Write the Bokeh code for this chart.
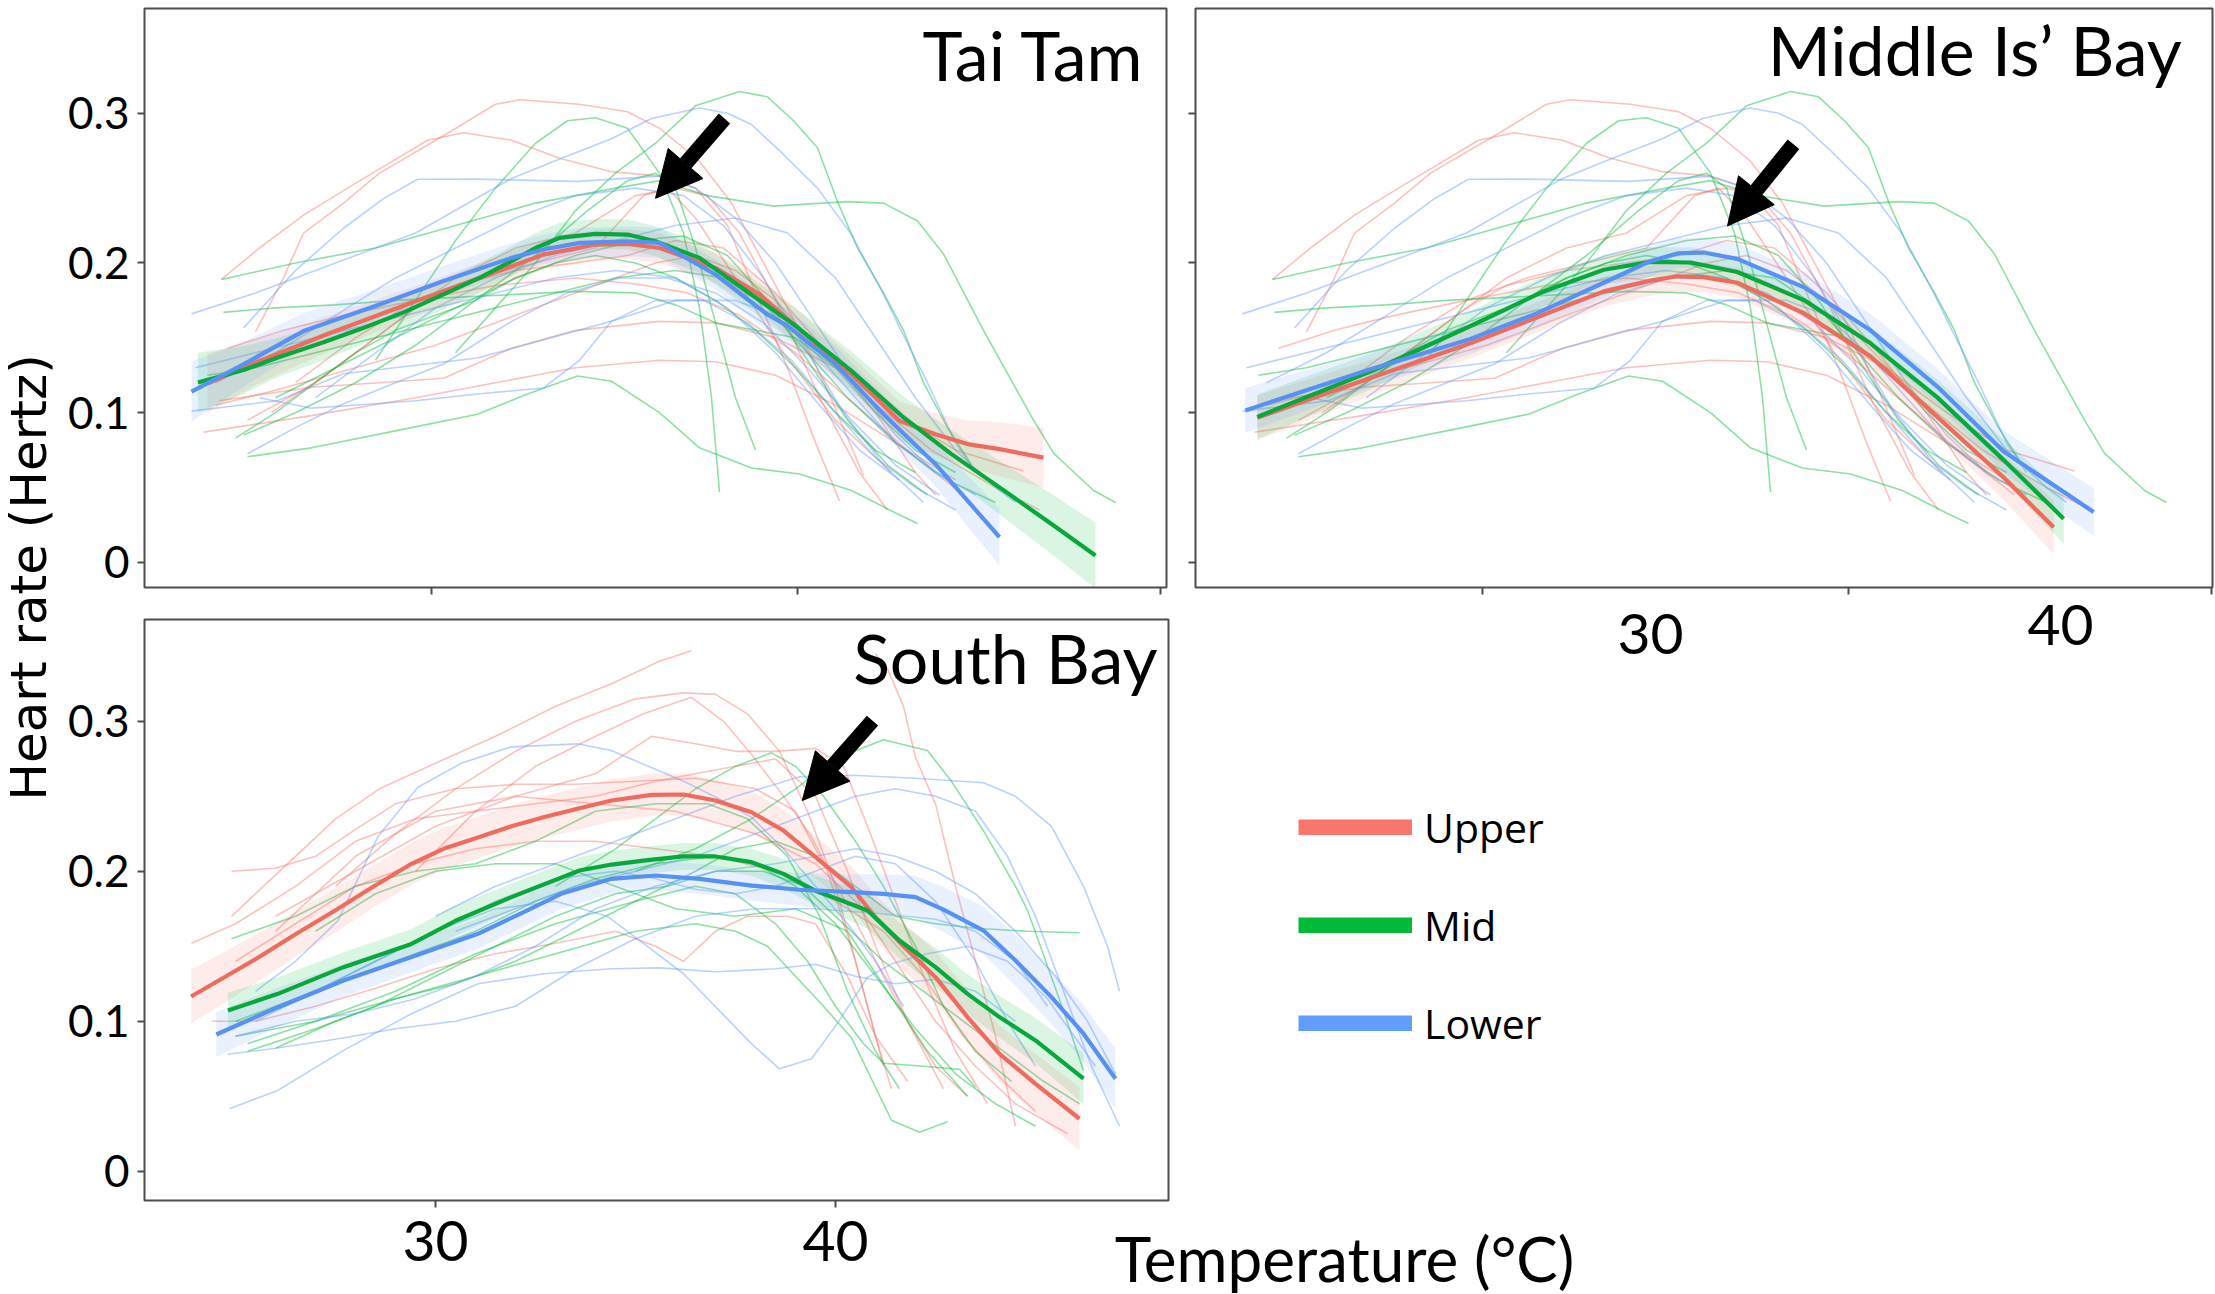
from math import pi

from bokeh.plotting import figure
from bokeh.layouts import row, column
from bokeh.models import Range1d, FixedTicker, Label, Arrow, NormalHead, Legend, LegendItem
from bokeh.embed import file_html
from bokeh.resources import INLINE

# ---------------------------------------------------------------- data
zones = ["Upper", "Mid", "Lower"]
sites = ["Tai Tam", "Middle Is\u2019 Bay", "South Bay"]

# Tai Tam: smoothed fits (temperature, heart rate) and ribbon half-widths
tt_upper_T = [24.3, 25.5, 26.5, 27.3, 29.4, 31.1, 32.7, 34.0, 34.8, 35.6, 37.0, 38.1, 39.0, 40.4, 41.6, 42.5, 43.3, 44.1, 45.2]
tt_upper_hr = [.1195, .1335, .144, .1525, .1734, .19, .2056, .2123, .2127, .21, .1967, .179, .158, .1256, .0945, .0856, .079, .0756, .07]
tt_upper_se = [.02, .015, .013, .012, .01, .01, .01, .01, .01, .01, .01, .011, .012, .012, .013, .014, .016, .018, .02]

tt_mid_T = [24.06, 25.2, 26.06, 27.2, 28.14, 29.2, 30.2, 31.1, 31.9, 32.5, 33.1, 34.0, 34.8, 35.5, 36.6, 37.9, 39.0, 40.4, 41.7, 42.9, 44.1, 45.4, 46.5]
tt_mid_hr = [.1201, .1285, .1368, .147, .156, .167, .179, .19, .2012, .21, .2168, .2194, .219, .2145, .2034, .179, .158, .1279, .0968, .0723, .0501, .0256, .0046]
tt_mid_se = [.02, .016, .013, .012, .011, .01, .01, .01, .01, .01, .01, .01, .01, .01, .01, .011, .012, .013, .014, .016, .018, .02, .022]

tt_lower_T = [23.9, 25.2, 26.7, 28.6, 30.2, 31.9, 32.7, 33.6, 34.8, 35.6, 37.0, 38.3, 38.8, 40.0, 41.2, 42.5, 43.3, 44.1]
tt_lower_hr = [.1141, .1323, .1545, .1723, .1879, .2034, .209, .2134, .2145, .2134, .1923, .1656, .158, .1323, .099, .0656, .0412, .0168]
tt_lower_se = [.02, .015, .012, .011, .01, .01, .01, .01, .01, .01, .01, .011, .011, .012, .013, .015, .017, .019]

# Middle Island Bay: smoothed fits
mb_upper_T = [24.27, 27.1, 29.6, 31.27, 32.93, 34.1, 34.77, 35.43, 36.27, 37.93, 39.6, 41.27, 42.93, 44.18]
mb_upper_hr = [.0966, .1232, .1463, .1637, .181, .1882, .1911, .1905, .1868, .1665, .1376, .0972, .0567, .0234]
mb_upper_se = [.015, .012, .01, .01, .01, .01, .01, .01, .01, .01, .011, .013, .015, .018]

mb_mid_T = [24.27, 27.1, 29.6, 31.43, 32.93, 34.1, 35.1, 36.27, 37.93, 39.6, 41.27, 42.93, 44.43]
mb_mid_hr = [.0972, .1275, .1579, .181, .1955, .2007, .2003, .194, .1752, .1463, .1102, .0683, .0292]
mb_mid_se = [.015, .012, .01, .01, .01, .01, .01, .01, .01, .011, .012, .014, .017]

mb_lower_T = [23.97, 27.1, 29.6, 31.27, 32.93, 34.1, 34.77, 35.43, 36.27, 37.93, 39.6, 41.27, 42.93, 45.18]
mb_lower_hr = [.1015, .129, .1492, .1665, .1868, .2012, .2064, .207, .2027, .1839, .155, .1174, .074, .0336]
mb_lower_se = [.015, .012, .01, .01, .01, .01, .01, .01, .01, .01, .011, .012, .014, .016]

# South Bay: smoothed fits
sb_upper_T = [23.89, 24.7, 25.6, 26.5, 27.5, 28.4, 29.4, 30.2, 31.1, 31.9, 32.7, 33.6, 34.4, 35.4, 36.2, 37.0, 37.9, 38.7, 39.5, 40.4, 41.0, 41.7, 42.5, 43.3, 44.1, 45.0, 46.1]
sb_upper_hr = [.1165, .129, .143, .158, .174, .189, .205, .215, .2228, .23, .2361, .242, .2472, .251, .2512, .2472, .2394, .2272, .2094, .1894, .1694, .15, .1294, .1028, .0783, .0583, .035]
sb_upper_se = [.018, .017, .016, .015, .015, .014, .014, .014, .014, .014, .014, .014, .014, .014, .014, .014, .014, .014, .014, .014, .015, .016, .017, .018, .019, .02, .021]

sb_mid_T = [24.81, 26.06, 27.7, 29.4, 30.5, 31.9, 33.6, 34.4, 35.3, 36.2, 37.0, 37.9, 38.7, 39.5, 40.2, 40.8, 41.6, 42.5, 43.3, 44.1, 45.0, 46.2]
sb_mid_hr = [.1072, .1183, .1361, .1516, .167, .1828, .2005, .2045, .2075, .2099, .2099, .2061, .1983, .187, .18, .1739, .1539, .1361, .1183, .1028, .0872, .0617]
sb_mid_se = [.012, .011, .01, .01, .01, .009, .009, .009, .009, .009, .009, .009, .01, .01, .011, .012, .012, .013, .013, .014, .015, .017]

sb_lower_T = [24.52, 26.06, 27.7, 29.4, 31.06, 32.14, 33.14, 34.4, 35.5, 36.6, 37.9, 39.1, 40.4, 41.2, 42.0, 42.7, 43.7, 44.5, 45.4, 46.2, 47.0]
sb_lower_hr = [.0912, .1094, .1272, .1428, .1583, .172, .185, .195, .1972, .195, .1905, .1877, .1861, .185, .1828, .1745, .1605, .1405, .1161, .0917, .0617]
sb_lower_se = [.015, .013, .011, .01, .01, .01, .01, .01, .01, .01, .01, .011, .012, .013, .014, .015, .016, .017, .018, .019, .02]

# Individual traces (temperature, heart rate) shown in Tai Tam and Middle Is' Bay
ind_upper = [
    [(25.5, .154), (26.2, .19), (26.7, .22), (27.7, .24), (28.6, .26), (30.2, .285), (31.5, .306), (32.1, .309), (33.6, .306), (34.8, .301), (35.6, .29), (36.6, .268), (37.4, .24), (38.2, .2), (39.0, .16), (39.8, .115), (40.7, .058)],
    [(24.65, .189), (25.6, .21), (26.7, .232), (27.8, .25), (28.8, .266), (29.8, .282), (30.7, .287), (31.9, .282), (33.1, .27), (34.4, .261), (35.6, .258), (36.5, .25), (37.3, .225), (38.0, .18), (38.8, .13), (39.5, .08), (40.1, .041)],
    [(24.2, .087), (26.9, .098), (29.5, .11), (31.5, .12), (33.5, .13), (35.6, .135), (37.0, .134), (38.5, .125), (40.0, .105), (41.5, .08), (43.0, .055)],
    [(24.6, .108), (26.9, .117), (28.6, .12), (30.2, .123), (31.9, .143), (33.5, .155), (35.6, .161), (37.0, .16), (38.5, .15), (40.0, .13), (41.5, .1), (43.0, .075), (44.7, .061)],
    [(24.8, .143), (26.2, .155), (27.7, .165), (29.5, .175), (31.5, .185), (33.5, .19), (35.0, .186), (36.3, .18), (37.6, .165), (39.0, .14), (40.5, .105), (42.0, .07), (43.2, .045)],
    [(25.9, .1), (27.5, .13), (29.0, .16), (30.5, .19), (32.0, .21), (33.5, .22), (35.0, .245), (36.0, .25), (36.8, .245), (37.6, .22), (38.6, .17), (39.6, .11), (40.6, .06), (41.3, .035)],
    [(24.5, .105), (26.0, .115), (28.0, .13), (30.0, .145), (32.0, .165), (34.0, .185), (35.5, .2), (36.5, .205), (37.5, .195), (38.5, .175), (39.5, .145), (40.8, .11), (42.4, .075), (44.0, .05), (45.1, .035)],
    [(25.3, .095), (27.0, .12), (28.5, .15), (29.5, .17), (30.5, .185), (32.0, .195), (33.5, .2), (34.8, .205), (36.0, .215), (37.2, .21), (38.5, .18), (39.8, .14), (41.0, .1), (42.0, .06), (42.5, .045)],
    [(26.5, .12), (28.0, .15), (29.5, .175), (31.0, .19), (32.5, .2), (34.0, .21), (35.2, .245), (35.8, .25), (36.5, .23), (37.5, .19), (38.7, .14), (40.0, .095), (41.4, .06)],
]
ind_mid = [
    [(28.5, .135), (29.5, .175), (30.5, .215), (31.5, .25), (32.5, .28), (33.3, .295), (34.0, .297), (34.8, .29), (35.6, .26), (36.2, .22), (36.6, .17), (36.9, .11), (37.1, .047)],
    [(30.5, .14), (31.5, .17), (32.5, .2), (33.5, .235), (34.5, .26), (35.5, .28), (36.5, .305), (37.6, .3145), (38.3, .311), (38.95, .295), (39.55, .277), (40.05, .241), (40.55, .21), (41.2, .18), (41.7, .155), (42.2, .12), (42.8, .09), (43.4, .065)],
    [(24.65, .189), (26.5, .2), (28.5, .21), (30.5, .225), (32.5, .24), (34.5, .25), (35.6, .255), (36.8, .245), (38.45, .238), (40.3, .241), (41.2, .24), (42.05, .228), (42.7, .206), (43.7, .155), (44.95, .095), (45.45, .073), (46.45, .048), (47.0, .04)],
    [(25.3, .0705), (26.9, .0765), (29.4, .09), (31.05, .099), (32.3, .1125), (33.55, .1245), (34.4, .121), (35.6, .1), (36.6, .0765), (37.9, .063), (39.1, .059), (40.4, .048), (41.5, .033), (42.05, .026)],
    [(25.0, .083), (26.0, .1), (27.0, .12), (28.0, .14), (29.0, .155), (30.0, .165), (31.0, .175), (32.0, .19), (33.0, .2), (34.0, .205), (35.0, .2), (36.0, .19), (37.0, .175), (38.0, .155), (39.0, .13), (40.0, .1), (41.0, .075), (42.0, .06)],
    [(24.7, .167), (26.0, .17), (27.5, .172), (29.0, .175), (30.5, .177), (32.0, .179), (33.5, .181), (35.0, .18), (36.0, .172), (37.0, .16), (38.0, .155), (39.0, .15), (40.0, .13), (41.0, .1), (42.0, .075), (43.0, .06)],
    [(25.2, .085), (26.5, .1), (28.0, .12), (29.5, .145), (31.0, .175), (32.5, .205), (33.8, .235), (34.8, .255), (35.5, .26), (36.0, .25), (36.5, .21), (37.0, .16), (37.5, .11), (38.0, .075)],
    [(24.3, .125), (25.5, .13), (27.0, .14), (28.5, .15), (30.0, .16), (31.5, .17), (33.0, .18), (34.5, .19), (36.0, .195), (37.2, .19), (38.3, .17), (39.3, .14), (40.3, .11), (41.5, .08), (42.8, .055), (44.0, .04)],
    [(26.0, .11), (27.5, .13), (29.0, .15), (30.5, .17), (32.0, .19), (33.5, .205), (35.0, .215), (36.2, .218), (37.3, .205), (38.3, .175), (39.3, .135), (40.3, .095), (41.3, .065), (42.3, .045)],
]
ind_lower = [
    [(23.9, .166), (25.5, .18), (27.5, .2), (29.5, .22), (31.9, .2565), (33.15, .27), (34.4, .283), (35.4, .2965), (36.6, .3035), (37.3, .3), (37.9, .2925), (38.7, .2725), (39.55, .25), (40.4, .219), (41.2, .179), (41.6, .157), (42.3, .12), (43.0, .08), (43.5, .06)],
    [(25.2, .1565), (26.5, .195), (27.7, .2232), (28.7, .243), (29.55, .2559), (31.05, .256), (33.55, .2545), (35.6, .258), (36.5, .25), (37.5, .23), (38.5, .2), (39.5, .16), (40.5, .12), (41.5, .085), (42.5, .06)],
    [(25.3, .0725), (26.5, .09), (27.7, .106), (29.0, .12), (30.2, .1325), (31.9, .161), (33.3, .18), (34.6, .19), (35.8, .19), (37.0, .18), (38.2, .16), (39.3, .13), (40.4, .095), (41.5, .065), (42.6, .045)],
    [(23.9, .101), (26.05, .108), (27.7, .126), (31.05, .1365), (34.4, .161), (36.0, .175), (37.5, .175), (38.5, .165), (39.5, .14), (40.5, .11), (41.5, .08), (42.5, .06), (43.5, .045)],
    [(25.6, .11), (26.9, .103), (27.7, .1045), (29.5, .108), (31.05, .1125), (32.7, .1165), (33.6, .135), (34.4, .161), (35.5, .175), (36.7, .175), (37.8, .16), (38.9, .135), (40.0, .1), (41.0, .07), (42.0, .05), (43.0, .035)],
    [(24.5, .12), (26.0, .14), (27.5, .165), (29.0, .19), (30.5, .21), (32.0, .23), (33.5, .245), (35.0, .25), (36.2, .245), (37.2, .225), (38.2, .19), (39.2, .145), (40.2, .1), (41.2, .065), (42.2, .04)],
    [(27.0, .11), (28.5, .14), (30.0, .17), (31.5, .19), (33.0, .205), (34.5, .215), (36.0, .225), (37.5, .23), (38.8, .22), (40.0, .19), (41.0, .15), (42.0, .11), (43.0, .075), (44.0, .05), (44.5, .04)],
    [(24.0, .13), (25.5, .14), (27.0, .15), (28.5, .16), (30.0, .17), (31.5, .18), (33.0, .19), (34.5, .195), (36.0, .19), (37.3, .17), (38.5, .14), (39.6, .105), (40.6, .075), (41.6, .055)],
]

# Individual traces for South Bay
sb_ind_upper = [
    [(24.9, .17), (26.3, .205), (27.5, .235), (28.6, .255), (30.0, .272), (31.5, .29), (33.0, .31), (34.4, .325), (35.6, .34), (36.4, .347)],
    [(27.5, .19), (29.0, .225), (30.5, .255), (32.0, .28), (33.5, .3), (35.0, .315), (36.2, .319), (37.0, .318), (37.8, .305), (38.6, .28), (39.3, .24), (40.0, .19), (40.6, .13), (41.2, .07)],
    [(29.5, .2), (31.0, .24), (32.5, .27), (34.0, .29), (35.2, .305), (36.4, .316), (37.2, .3), (37.9, .278), (38.7, .25), (39.4, .223), (40.0, .192), (40.5, .167), (41.2, .13), (42.0, .09), (42.7, .055)],
    [(41.0, .345), (41.3, .335), (41.7, .31), (42.0, .276), (42.5, .245), (43.0, .19), (43.5, .14), (44.0, .09), (44.5, .03)],
    [(26.0, .17), (28.0, .2), (30.0, .23), (32.0, .25), (34.0, .265), (35.4, .29), (36.5, .285), (37.5, .28), (38.5, .28), (39.5, .282), (40.2, .27), (40.8, .23), (41.5, .18), (42.2, .13), (43.0, .08), (43.8, .045)],
    [(24.9, .2), (26.0, .202), (27.0, .21), (28.0, .228), (29.0, .245), (30.5, .255), (32.0, .258), (33.5, .258), (35.0, .26), (36.5, .262), (38.0, .255), (39.0, .24), (39.8, .2), (40.5, .14), (41.0, .09), (41.4, .055)],
    [(24.4, .1), (25.5, .1), (27.0, .11), (28.5, .122), (30.0, .135), (31.5, .145), (33.0, .152), (34.5, .16), (35.5, .15), (36.2, .14), (37.0, .16), (37.8, .17), (38.8, .17), (39.5, .165), (40.3, .13), (41.0, .09), (41.8, .06)],
    [(23.9, .152), (25.0, .165), (26.5, .19), (28.0, .22), (29.5, .235), (31.0, .24), (32.5, .245), (34.0, .25), (35.5, .26), (36.5, .265), (37.5, .27), (38.5, .275), (39.5, .25), (40.3, .2), (41.0, .15), (41.8, .1), (42.5, .07), (43.3, .05)],
    [(25.0, .14), (26.5, .165), (28.0, .19), (29.5, .205), (31.0, .215), (32.5, .22), (34.0, .22), (35.5, .215), (37.0, .21), (38.5, .2), (40.0, .18), (41.2, .16), (42.2, .13), (43.2, .09), (44.2, .06), (45.0, .04)],
    [(26.0, .16), (28.0, .21), (30.0, .24), (32.0, .25), (34.0, .245), (36.0, .24), (38.0, .225), (39.5, .205), (40.5, .18), (41.5, .14), (42.5, .1), (43.5, .07), (44.5, .045), (45.8, .025)],
]
sb_ind_mid = [
    [(35.0, .2), (36.5, .215), (37.9, .235), (39.0, .255), (40.0, .275), (41.2, .2877), (42.3, .2805), (42.9, .26), (43.7, .227), (44.5, .19), (44.8, .174), (45.7, .107), (46.2, .067)],
    [(33.0, .19), (34.5, .215), (35.5, .235), (36.5, .255), (37.5, .27), (38.4, .279), (39.0, .27), (39.7, .25), (40.5, .22), (41.2, .19), (42.0, .15), (42.7, .11), (43.5, .08), (44.4, .06)],
    [(25.0, .09), (27.0, .1), (29.0, .115), (31.0, .13), (33.0, .145), (35.0, .16), (36.5, .165), (37.5, .16), (38.3, .15), (39.0, .13), (39.7, .11), (40.4, .089), (41.4, .034), (42.1, .026), (42.8, .033)],
    [(25.3, .085), (27.0, .1), (29.0, .12), (31.0, .145), (33.0, .165), (35.0, .18), (36.5, .19), (37.5, .185), (38.5, .165), (39.3, .14), (40.0, .11), (40.7, .085), (41.2, .072), (42.2, .07), (43.1, .068), (43.5, .056)],
    [(24.9, .155), (26.5, .17), (28.0, .19), (29.5, .2), (31.0, .205), (32.5, .22), (34.0, .24), (35.5, .245), (36.8, .245), (37.8, .235), (38.8, .21), (39.6, .17), (40.3, .12), (41.0, .08), (41.6, .055)],
    [(25.3, .08), (27.0, .095), (28.5, .11), (30.0, .13), (31.5, .15), (33.0, .17), (34.5, .185), (35.8, .19), (37.0, .2), (38.2, .2), (39.2, .19), (40.2, .165), (41.2, .14), (42.2, .12), (43.2, .1), (44.2, .08), (45.2, .06), (46.1, .045)],
    [(26.0, .082), (27.5, .1), (29.0, .115), (30.5, .125), (32.0, .14), (33.5, .16), (35.0, .18), (36.5, .2), (37.5, .215), (38.5, .22), (39.5, .21), (40.5, .19), (41.5, .17), (42.5, .165), (43.5, .162), (44.8, .16), (46.1, .159)],
    [(25.0, .1), (26.5, .115), (28.0, .13), (29.5, .145), (31.0, .16), (32.5, .18), (34.0, .195), (35.5, .205), (37.0, .21), (38.0, .205), (39.0, .19), (40.0, .165), (41.0, .13), (42.0, .095), (43.0, .065), (44.0, .045), (45.0, .03)],
    [(27.0, .16), (28.5, .185), (30.0, .2), (31.5, .205), (33.0, .205), (34.5, .19), (36.0, .175), (37.5, .17), (39.0, .175), (40.3, .16), (41.3, .12), (42.3, .08), (43.3, .05)],
]
sb_ind_lower = [
    [(24.85, .0417), (26.06, .0539), (27.7, .0806), (29.4, .105), (31.06, .125), (32.7, .1317), (34.4, .135), (35.6, .1356), (37.0, .133), (38.5, .135), (39.5, .138), (40.5, .13), (41.5, .125), (42.5, .128), (43.5, .12), (44.5, .1)],
    [(25.5, .1), (27.0, .12), (28.5, .14), (30.0, .16), (31.5, .175), (33.0, .18), (34.3, .17), (35.3, .15), (36.2, .1317), (37.9, .085), (38.6, .0683), (39.4, .075), (40.04, .0983), (40.8, .1294), (41.4, .1383), (42.3, .145), (43.3, .15), (44.3, .14), (45.3, .115), (46.5, .07)],
    [(25.5, .12), (26.5, .14), (27.56, .167), (28.56, .223), (29.56, .256), (30.64, .272), (31.89, .283), (33.56, .285), (34.39, .2805), (35.5, .268), (36.2, .26), (37.04, .249), (37.9, .236), (38.7, .215), (39.5, .19), (40.3, .165), (41.0, .14), (41.7, .11)],
    [(30.0, .17), (31.5, .19), (33.0, .205), (34.5, .22), (36.0, .235), (37.5, .25), (39.1, .263), (40.4, .264), (42.0, .262), (43.7, .259), (44.5, .25), (45.4, .23), (46.2, .19), (46.8, .15), (47.1, .12)],
    [(30.5, .16), (32.0, .175), (33.5, .19), (35.0, .2), (36.5, .21), (38.0, .225), (39.5, .24), (40.5, .25), (41.5, .255), (42.5, .25), (43.5, .24), (44.3, .21), (45.0, .17), (45.7, .12), (46.4, .07), (47.1, .03)],
    [(25.0, .09), (26.5, .1), (28.0, .105), (29.5, .115), (31.0, .13), (32.5, .15), (34.0, .175), (35.5, .19), (37.0, .2), (38.5, .205), (39.5, .21), (40.5, .215), (41.5, .21), (42.5, .2), (43.5, .185), (44.5, .16), (45.5, .13), (46.3, .1), (47.0, .065)],
    [(24.8, .078), (26.0, .082), (27.5, .088), (29.0, .095), (30.5, .1), (32.0, .11), (33.5, .135), (35.0, .155), (36.5, .17), (38.0, .175), (39.5, .175), (41.0, .172), (42.5, .168), (43.5, .16), (44.5, .14), (45.3, .11)],
    [(27.0, .12), (28.5, .14), (30.0, .16), (31.5, .18), (33.0, .195), (34.5, .2), (35.5, .195), (36.5, .188), (37.5, .185), (38.5, .19), (39.5, .2), (40.5, .21), (41.5, .205), (42.5, .18), (43.5, .14), (44.3, .1), (45.0, .07)],
]

# Axis ticks
hr_ticks = [0, 0.1, 0.2, 0.3]
hr_tick_labels = ["0", "0.1", "0.2", "0.3"]
top_temp_ticks = [29.9, 39.05, 48.12]
south_temp_ticks = [30, 40]

# Arrows (tail temperature, tail rate, head temperature, head rate)
tt_arrow = (37.225, 0.2965, 35.5, 0.2432)
mb_arrow = (37.675, 0.2793, 36.025, 0.2247)
sb_arrow = (40.925, 0.3005, 39.17, 0.2472)

# ---------------------------------------------------------------- style
ZONE_COLORS = {"Upper": "#F8766D", "Mid": "#00BA38", "Lower": "#619CFF"}
FIT_COLORS = {"Upper": "#EE6B60", "Mid": "#08A83C", "Lower": "#5891F4"}
FRAME = "#4D4D4D"
NUM_FONT = "Lato"


def make_panel(width, height, x_range, y_range, left, right, top, bottom):
    p = figure(width=width, height=height, x_range=Range1d(*x_range), y_range=Range1d(*y_range),
               output_backend="svg", toolbar_location=None,
               min_border_left=left, min_border_right=right,
               min_border_top=top, min_border_bottom=bottom)
    p.grid.visible = False
    p.outline_line_color = FRAME
    p.outline_line_width = 2
    p.outline_line_alpha = 1.0
    for ax in p.axis:
        ax.axis_line_color = None
        ax.major_tick_line_color = FRAME
        ax.major_tick_line_width = 2
        ax.major_tick_in = 0
        ax.major_tick_out = 7
        ax.minor_tick_line_color = None
        ax.major_label_text_font = NUM_FONT
        ax.major_label_text_color = "black"
    p.yaxis.ticker = FixedTicker(ticks=hr_ticks)
    return p


def ticks_only(ax):
    # tick marks without numbers
    ax.major_label_text_color = None
    ax.major_label_text_alpha = 0
    ax.major_label_text_font_size = "1px"
    ax.major_label_standoff = 0


def show_hr_labels(ax):
    ax.major_label_overrides = {t: s for t, s in zip(hr_ticks, hr_tick_labels)}
    ax.major_label_text_font_size = "44px"
    ax.major_label_standoff = 8


def draw_site(p, traces, fits):
    for zone in zones:
        tr = traces[zone]
        p.multi_line(xs=[[pt[0] for pt in t] for t in tr], ys=[[pt[1] for pt in t] for t in tr],
                     line_color=ZONE_COLORS[zone], line_alpha=0.45, line_width=1.6)
    for zone in zones:
        T, hr, se = fits[zone]
        p.varea(x=T, y1=[h - s for h, s in zip(hr, se)], y2=[h + s for h, s in zip(hr, se)],
                fill_color=ZONE_COLORS[zone], fill_alpha=0.14)
    for zone in zones:
        T, hr, se = fits[zone]
        p.line(T, hr, line_color=FIT_COLORS[zone], line_width=4.2)


def add_arrow(p, a):
    p.add_layout(Arrow(x_start=a[0], y_start=a[1], x_end=a[2], y_end=a[3],
                       line_color="black", line_width=15,
                       end=NormalHead(size=46, fill_color="black", line_color="black", line_width=1)))


def add_title(p, text, x, y):
    p.add_layout(Label(x=x, y=y, text=text, text_align="right", text_baseline="alphabetic",
                       text_font=NUM_FONT, text_font_size="68px", text_color="black"))


shared_traces = {"Upper": ind_upper, "Mid": ind_mid, "Lower": ind_lower}

# ---------------------------------------------------------------- Tai Tam
p1 = make_panel(1120, 600, (22.725, 48.275), (-0.0168, 0.370), 84, 14, 7, 13)
p1.xaxis.ticker = FixedTicker(ticks=top_temp_ticks)
ticks_only(p1.xaxis[0])
show_hr_labels(p1.yaxis[0])
draw_site(p1, shared_traces, {
    "Upper": (tt_upper_T, tt_upper_hr, tt_upper_se),
    "Mid": (tt_mid_T, tt_mid_hr, tt_mid_se),
    "Lower": (tt_lower_T, tt_lower_hr, tt_lower_se)})
add_arrow(p1, tt_arrow)
add_title(p1, sites[0], 47.725, 0.3395)

# ---------------------------------------------------------------- Middle Island Bay
p2 = make_panel(1035, 600, (22.725, 48.15), (-0.0168, 0.370), 15, 3, 8, 12)
p2.xaxis.ticker = FixedTicker(ticks=top_temp_ticks)
ticks_only(p2.xaxis[0])
ticks_only(p2.yaxis[0])
draw_site(p2, shared_traces, {
    "Upper": (mb_upper_T, mb_upper_hr, mb_upper_se),
    "Mid": (mb_mid_T, mb_mid_hr, mb_mid_se),
    "Lower": (mb_lower_T, mb_lower_hr, mb_lower_se)})
add_arrow(p2, mb_arrow)
add_title(p2, sites[1], 47.4, 0.3425)

# ---------------------------------------------------------------- South Bay
p3 = make_panel(1110, 694, (22.725, 48.325), (-0.0195, 0.3679), 84, 2, 19, 94)
p3.xaxis.ticker = FixedTicker(ticks=south_temp_ticks)
p3.xaxis.major_label_text_font_size = "57px"
p3.xaxis.major_label_standoff = 13
show_hr_labels(p3.yaxis[0])
draw_site(p3, {"Upper": sb_ind_upper, "Mid": sb_ind_mid, "Lower": sb_ind_lower}, {
    "Upper": (sb_upper_T, sb_upper_hr, sb_upper_se),
    "Mid": (sb_mid_T, sb_mid_hr, sb_mid_se),
    "Lower": (sb_lower_T, sb_lower_hr, sb_lower_se)})
add_arrow(p3, sb_arrow)
add_title(p3, sites[2], 48.05, 0.3425)

# ---------------------------------------------------------------- key, shared x title, upper-right numbers
# A transparent sheet laid over the lower-right corner of the page (page pixel units).
sheet = figure(width=1105, height=714, x_range=Range1d(1110, 2215), y_range=Range1d(1294, 580),
               x_axis_type=None, y_axis_type=None, min_border=0, frame_align=False,
               output_backend="svg", toolbar_location=None, margin=(-20, 0, 0, -60))
sheet.outline_line_color = None
sheet.background_fill_color = None
sheet.border_fill_color = None
sheet.grid.visible = False

for txt, x, y in [("30", 1650, 633), ("40", 2060, 624)]:
    sheet.add_layout(Label(x=x, y=y, text=txt, text_align="center", text_baseline="middle",
                           text_font=NUM_FONT, text_font_size="57px", text_color="black"))

sheet.add_layout(Label(x=1344, y=1257, text="Temperature (\u00b0C)", text_align="center",
                       text_baseline="alphabetic", text_font=NUM_FONT, text_font_size="62px",
                       text_color="black"))

nan = float("nan")
key_renderers = [sheet.line([nan], [nan], line_color=ZONE_COLORS[z], line_width=16) for z in zones]
legend = Legend(items=[LegendItem(label=z, renderers=[r]) for z, r in zip(zones, key_renderers)],
                location=(188, 241), orientation="vertical",
                glyph_width=114, glyph_height=16, label_standoff=12, spacing=38, label_height=60,
                label_text_font="Open Sans", label_text_font_size="41px", label_text_color="black",
                padding=0, margin=0, border_line_color=None, background_fill_alpha=0)
sheet.add_layout(legend)

# ---------------------------------------------------------------- shared y-axis title
strip = figure(width=60, height=1294, x_range=Range1d(0, 60), y_range=Range1d(0, 1294),
               x_axis_type=None, y_axis_type=None, min_border=0,
               output_backend="svg", toolbar_location=None)
strip.outline_line_color = None
strip.grid.visible = False
strip.add_layout(Label(x=28, y=717, text="Heart rate (Hertz)", angle=pi / 2,
                       text_align="center", text_baseline="middle",
                       text_font="DejaVu Sans", text_font_size="50px", text_color="black"))

layout = row(strip, column(row(p1, p2), row(p3, sheet)))

with open("out.html", "w") as f:
    f.write(file_html(layout, INLINE))
